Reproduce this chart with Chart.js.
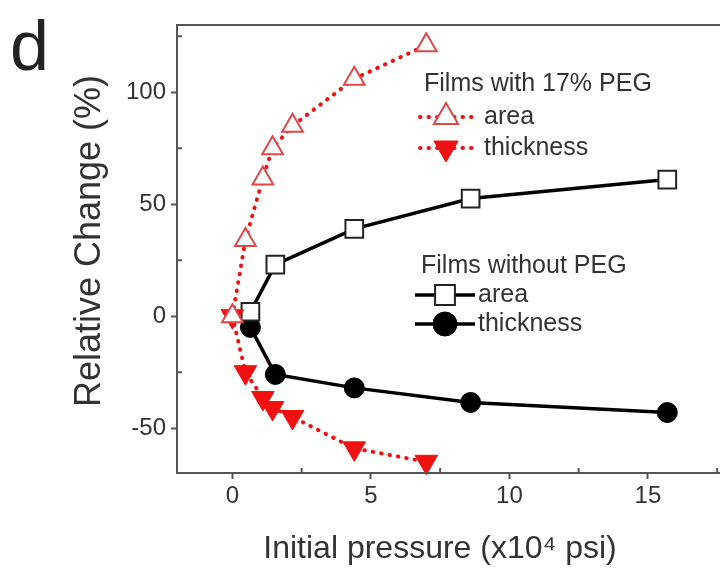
<!DOCTYPE html>
<html>
<head>
<meta charset="utf-8">
<script src="https://cdn.jsdelivr.net/npm/chart.js"></script>
<style>
  html, body { margin: 0; padding: 0; background: #fff; overflow: hidden; }
  #wrap { width: 760px; height: 568px; }
</style>
</head>
<body>
<div id="wrap"><canvas id="c" width="760" height="568"></canvas></div>
<script>
// pressure in x10^4 psi, change in %
let pegX = [0, 0.47, 1.1, 1.45, 2.17, 4.4, 7.0]
let pegArea = [0, 34, 61.5, 75, 85, 106, 121]
let pegThick = [0, -25, -36.5, -41, -45, -59, -65]

let noPegX = [0.65, 1.55, 4.4, 8.6, 15.7]
let noPegArea = [2, 23, 39, 52.5, 61]
let noPegThick = [-5, -26, -32, -38.5, -43]

let xTicks = [0, 2.5, 5, 7.5, 10, 12.5, 15, 17.5]
let yTicks = [-50, -25, 0, 25, 50, 75, 100, 125]

let xTitle = 'Initial pressure (x10\u2074 psi)'
let yTitle = 'Relative Change (%)'

let red = '#f01010'
let ink = '#333'
let axisColor = '#555'
let font = '"Liberation Sans", Arial, sans-serif'

let pts = (xs, ys) => xs.map((x, i) => ({ x: x, y: ys[i] }))

let datasets = [
  {
    label: 'area',
    data: pts(pegX, pegArea),
    borderColor: red,
    borderWidth: 4,
    borderDash: [0.5, 8],
    borderCapStyle: 'round',
    pointStyle: 'triangle',
    pointRadius: 12,
    pointBackgroundColor: '#fff',
    pointBorderColor: '#e04848',
    pointBorderWidth: 2,
  },
  {
    label: 'thickness',
    data: pts(pegX, pegThick),
    borderColor: red,
    borderWidth: 4,
    borderDash: [0.5, 8],
    borderCapStyle: 'round',
    pointStyle: 'triangle',
    pointRotation: 180,
    pointRadius: 13,
    pointBackgroundColor: red,
    pointBorderColor: red,
    pointBorderWidth: 1,
  },
  {
    label: 'area',
    data: pts(noPegX, noPegArea),
    borderColor: '#000',
    borderWidth: 3.5,
    pointStyle: 'rect',
    pointRadius: 12.5,
    pointBackgroundColor: '#fff',
    pointBorderColor: '#222',
    pointBorderWidth: 2,
  },
  {
    label: 'thickness',
    data: pts(noPegX, noPegThick),
    borderColor: '#000',
    borderWidth: 3.5,
    pointStyle: 'circle',
    pointRadius: 10,
    pointBackgroundColor: '#000',
    pointBorderColor: '#000',
    pointBorderWidth: 1,
  },
]

let legendGroups = [
  { head: 'Films with 17% PEG', hx: 424, hy: 84, items: [[0, 117, 420, 472, 484, 14], [1, 148, 420, 472, 484, 14]] },
  { head: 'Films without PEG', hx: 421, hy: 266, items: [[2, 295, 415, 475, 478, 14], [3, 324, 415, 475, 478, 12]] },
]

// frame, minor ticks, axis titles, panel letter and the grouped legend
let decor = {
  id: 'decor',
  afterDraw(chart) {
    let ctx = chart.ctx
    let a = chart.chartArea
    let sx = chart.scales.x
    let sy = chart.scales.y
    ctx.save()
    ctx.strokeStyle = axisColor
    ctx.lineWidth = 2
    ctx.strokeRect(a.left, a.top, a.right - a.left, a.bottom - a.top)

    // minor ticks point inward
    ctx.beginPath()
    xTicks.filter((v) => v % 5 !== 0).forEach((v) => {
      let px = sx.getPixelForValue(v)
      ctx.moveTo(px, a.bottom)
      ctx.lineTo(px, a.bottom - 5)
    })
    yTicks.filter((v) => v % 50 !== 0).forEach((v) => {
      let py = sy.getPixelForValue(v)
      ctx.moveTo(a.left, py)
      ctx.lineTo(a.left + 5, py)
    })
    ctx.stroke()

    // axis titles (placed like the original, not centred on the axes)
    ctx.fillStyle = ink
    ctx.textAlign = 'center'
    ctx.textBaseline = 'alphabetic'
    ctx.font = '32px ' + font
    ctx.fillText(xTitle, 440, 558)
    ctx.save()
    ctx.translate(100, 241)
    ctx.rotate(-Math.PI / 2)
    ctx.font = '36px ' + font
    ctx.fillText(yTitle, 0, 0)
    ctx.restore()
    ctx.textAlign = 'left'

    ctx.fillStyle = '#222'
    ctx.font = '70px ' + font
    ctx.fillText('d', 10, 70)

    ctx.textBaseline = 'middle'
    legendGroups.forEach((g) => {
      ctx.fillStyle = ink
      ctx.font = '25px ' + font
      ctx.fillText(g.head, g.hx, g.hy)
      g.items.forEach(([i, y, x0, x1, tx, r]) => {
        let ds = chart.data.datasets[i]
        ctx.save()
        ctx.strokeStyle = ds.borderColor
        ctx.lineWidth = ds.borderWidth
        ctx.lineCap = ds.borderCapStyle || 'butt'
        ctx.setLineDash(ds.borderDash || [])
        ctx.beginPath()
        ctx.moveTo(x0, y)
        ctx.lineTo(x1, y)
        ctx.stroke()
        ctx.restore()
        ctx.save()
        ctx.fillStyle = ds.pointBackgroundColor
        ctx.strokeStyle = ds.pointBorderColor
        ctx.lineWidth = ds.pointBorderWidth
        Chart.helpers.drawPoint(ctx, {
          pointStyle: ds.pointStyle,
          rotation: ds.pointRotation || 0,
          radius: r,
          borderWidth: ds.pointBorderWidth,
        }, (x0 + x1) / 2, y)
        ctx.restore()
        ctx.fillStyle = ink
        ctx.font = '25px ' + font
        ctx.fillText(ds.label, tx, y)
      })
    })
    ctx.restore()
  },
}

new Chart(document.getElementById('c'), {
  type: 'scatter',
  data: { datasets: datasets.map((d) => Object.assign({ showLine: true, tension: 0, clip: false }, d)) },
  options: {
    responsive: false,
    animation: false,
    layout: { padding: { top: 25, right: 29, left: 0, bottom: 0 } },
    plugins: { legend: { display: false }, tooltip: { enabled: false } },
    scales: {
      x: {
        type: 'linear',
        min: -2,
        max: 18,
        afterBuildTicks: (s) => { s.ticks = xTicks.map((v) => ({ value: v })) },
        afterFit: (s) => { s.height = 95 },
        grid: {
          drawOnChartArea: false,
          tickLength: 6,
          tickWidth: 2,
          tickColor: (c) => (c.tick && c.tick.value % 5 === 0 ? axisColor : 'rgba(0,0,0,0)'),
        },
        border: { color: axisColor, width: 2 },
        ticks: {
          color: ink,
          font: { size: 24, family: font },
          padding: 3,
          maxRotation: 0,
          autoSkip: false,
          callback: (v) => (v % 5 === 0 ? v : ''),
        },
      },
      y: {
        type: 'linear',
        min: -70,
        max: 130,
        afterBuildTicks: (s) => { s.ticks = yTicks.map((v) => ({ value: v })) },
        afterFit: (s) => { s.width = 177 },
        grid: {
          drawOnChartArea: false,
          tickLength: 6,
          tickWidth: 2,
          tickColor: (c) => (c.tick && c.tick.value % 50 === 0 ? axisColor : 'rgba(0,0,0,0)'),
        },
        border: { color: axisColor, width: 2 },
        ticks: {
          color: ink,
          font: { size: 24, family: font },
          padding: 5,
          autoSkip: false,
          callback: (v) => (v % 50 === 0 ? v : ''),
        },
      },
    },
  },
  plugins: [decor],
})
</script>
</body>
</html>
